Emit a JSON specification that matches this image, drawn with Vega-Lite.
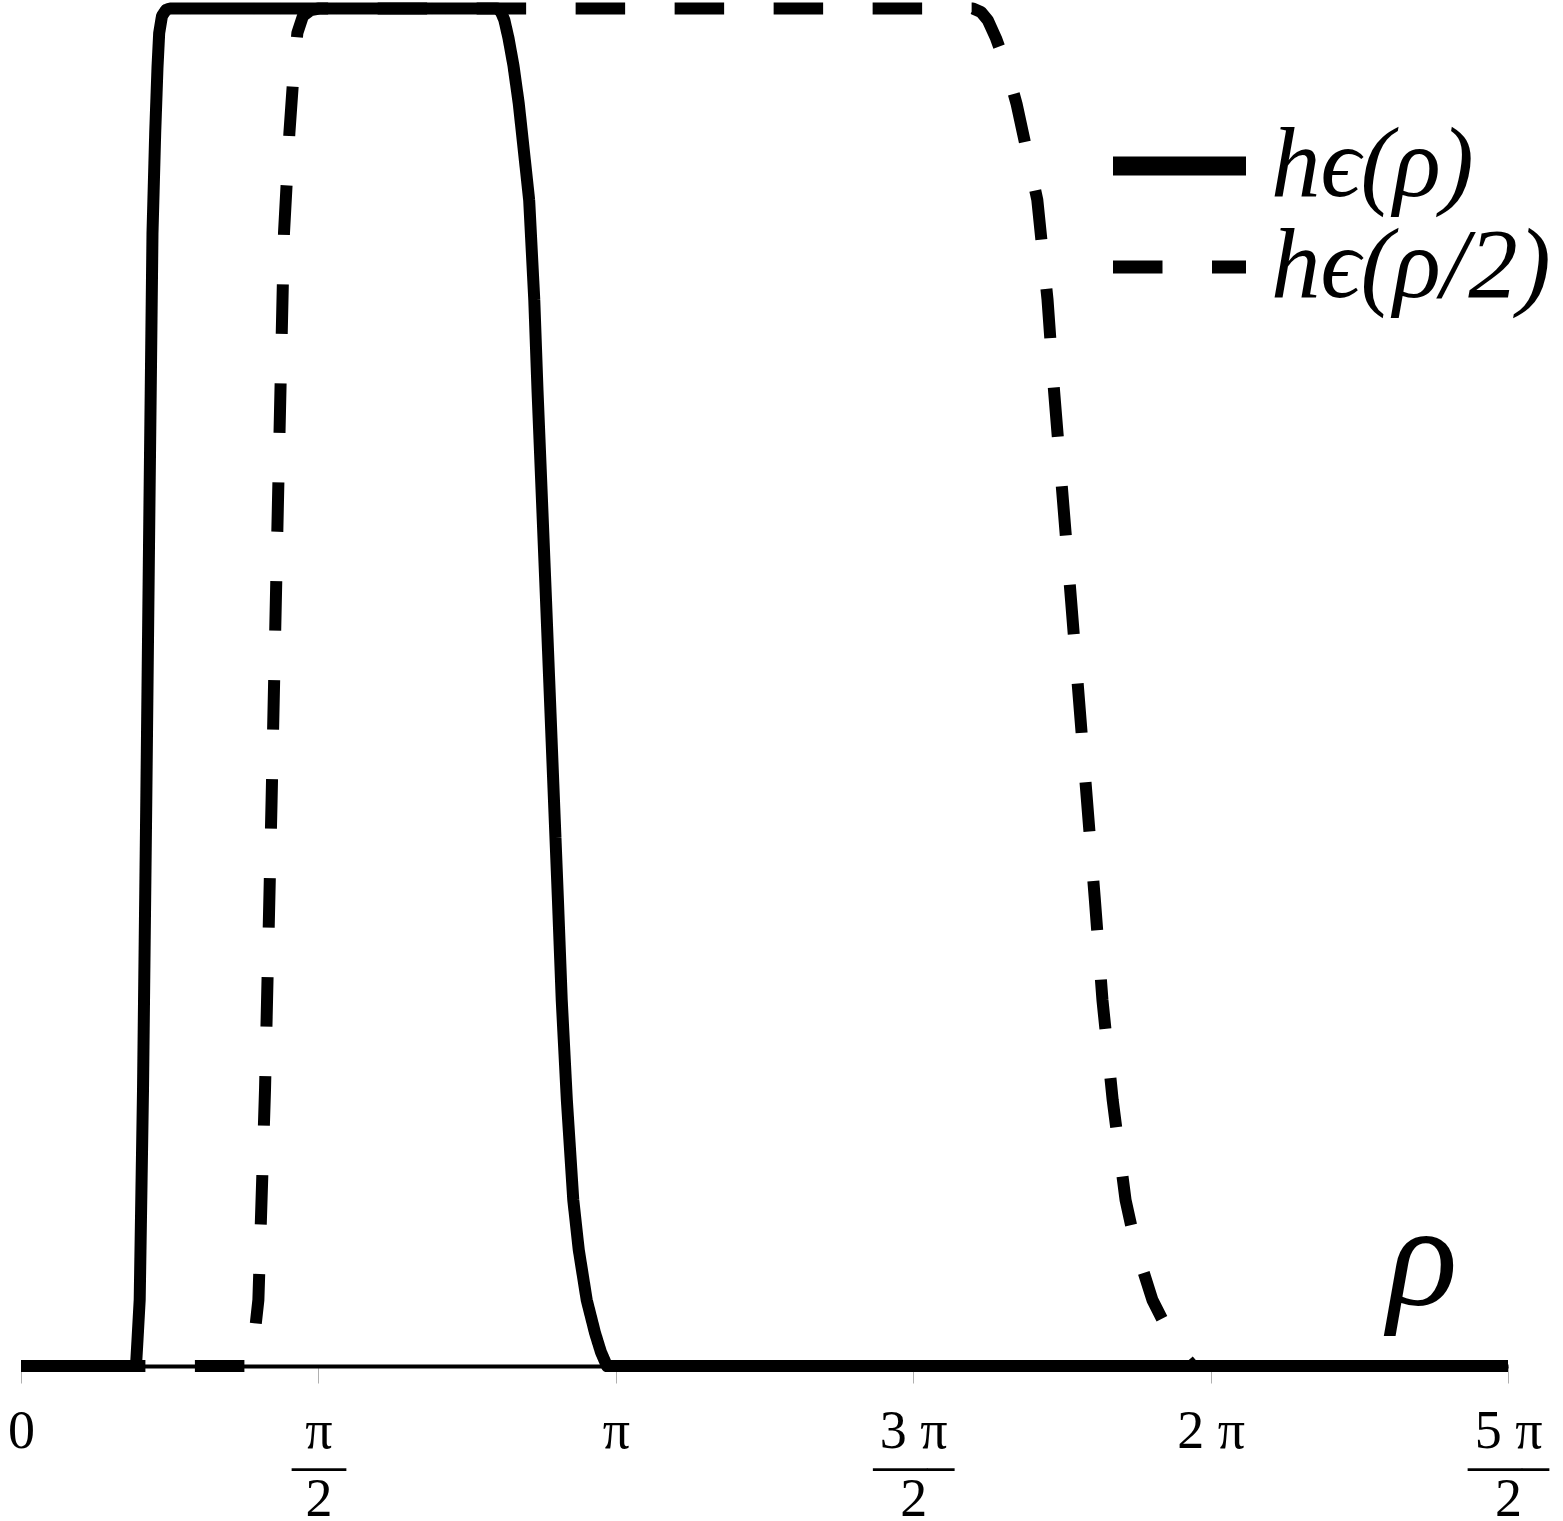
{
  "$schema": "https://vega.github.io/schema/vega-lite/v6.json",
  "width": 1487,
  "height": 1357.5,
  "autosize": {"type": "none"},
  "padding": {"left": 21, "top": 8.5, "right": 55, "bottom": 155},
  "background": "white",
  "config": {"view": {"stroke": null}},
  "data": {
    "values": [
      {"series": "hϵ(ρ)", "rho": 0, "h": 0},
      {"series": "hϵ(ρ)", "rho": 0.6074, "h": 0},
      {"series": "hϵ(ρ)", "rho": 0.6153, "h": 0.0192},
      {"series": "hϵ(ρ)", "rho": 0.6269, "h": 0.0486},
      {"series": "hϵ(ρ)", "rho": 0.6444, "h": 0.2033},
      {"series": "hϵ(ρ)", "rho": 0.6618, "h": 0.4169},
      {"series": "hϵ(ρ)", "rho": 0.6787, "h": 0.6379},
      {"series": "hϵ(ρ)", "rho": 0.6945, "h": 0.8346},
      {"series": "hϵ(ρ)", "rho": 0.7088, "h": 0.9083},
      {"series": "hϵ(ρ)", "rho": 0.721, "h": 0.9569},
      {"series": "hϵ(ρ)", "rho": 0.7299, "h": 0.982},
      {"series": "hϵ(ρ)", "rho": 0.7447, "h": 0.9945},
      {"series": "hϵ(ρ)", "rho": 0.7658, "h": 0.9989},
      {"series": "hϵ(ρ)", "rho": 0.787, "h": 1},
      {"series": "hϵ(ρ)", "rho": 2.514, "h": 1},
      {"series": "hϵ(ρ)", "rho": 2.535, "h": 0.9975},
      {"series": "hϵ(ρ)", "rho": 2.553, "h": 0.9915},
      {"series": "hϵ(ρ)", "rho": 2.575, "h": 0.978},
      {"series": "hϵ(ρ)", "rho": 2.601, "h": 0.958},
      {"series": "hϵ(ρ)", "rho": 2.629, "h": 0.93},
      {"series": "hϵ(ρ)", "rho": 2.66, "h": 0.89},
      {"series": "hϵ(ρ)", "rho": 2.684, "h": 0.8589},
      {"series": "hϵ(ρ)", "rho": 2.711, "h": 0.7853},
      {"series": "hϵ(ρ)", "rho": 2.728, "h": 0.719},
      {"series": "hϵ(ρ)", "rho": 2.773, "h": 0.5643},
      {"series": "hϵ(ρ)", "rho": 2.836, "h": 0.3433},
      {"series": "hϵ(ρ)", "rho": 2.856, "h": 0.2696},
      {"series": "hϵ(ρ)", "rho": 2.883, "h": 0.1959},
      {"series": "hϵ(ρ)", "rho": 2.917, "h": 0.1223},
      {"series": "hϵ(ρ)", "rho": 2.946, "h": 0.0855},
      {"series": "hϵ(ρ)", "rho": 2.988, "h": 0.0486},
      {"series": "hϵ(ρ)", "rho": 3.032, "h": 0.0243},
      {"series": "hϵ(ρ)", "rho": 3.063, "h": 0.0103},
      {"series": "hϵ(ρ)", "rho": 3.095, "h": 0},
      {"series": "hϵ(ρ)", "rho": 7.854, "h": 0},
      {"series": "hϵ(ρ/2)", "rho": 0, "h": 0},
      {"series": "hϵ(ρ/2)", "rho": 1.2148, "h": 0},
      {"series": "hϵ(ρ/2)", "rho": 1.2306, "h": 0.0192},
      {"series": "hϵ(ρ/2)", "rho": 1.2538, "h": 0.0486},
      {"series": "hϵ(ρ/2)", "rho": 1.2888, "h": 0.2033},
      {"series": "hϵ(ρ/2)", "rho": 1.3236, "h": 0.4169},
      {"series": "hϵ(ρ/2)", "rho": 1.3574, "h": 0.6379},
      {"series": "hϵ(ρ/2)", "rho": 1.389, "h": 0.8346},
      {"series": "hϵ(ρ/2)", "rho": 1.4176, "h": 0.9083},
      {"series": "hϵ(ρ/2)", "rho": 1.442, "h": 0.9569},
      {"series": "hϵ(ρ/2)", "rho": 1.4598, "h": 0.982},
      {"series": "hϵ(ρ/2)", "rho": 1.4894, "h": 0.9945},
      {"series": "hϵ(ρ/2)", "rho": 1.5316, "h": 0.9989},
      {"series": "hϵ(ρ/2)", "rho": 1.574, "h": 1},
      {"series": "hϵ(ρ/2)", "rho": 5.028, "h": 1},
      {"series": "hϵ(ρ/2)", "rho": 5.07, "h": 0.9975},
      {"series": "hϵ(ρ/2)", "rho": 5.106, "h": 0.9915},
      {"series": "hϵ(ρ/2)", "rho": 5.15, "h": 0.978},
      {"series": "hϵ(ρ/2)", "rho": 5.202, "h": 0.958},
      {"series": "hϵ(ρ/2)", "rho": 5.258, "h": 0.93},
      {"series": "hϵ(ρ/2)", "rho": 5.32, "h": 0.89},
      {"series": "hϵ(ρ/2)", "rho": 5.368, "h": 0.8589},
      {"series": "hϵ(ρ/2)", "rho": 5.422, "h": 0.7853},
      {"series": "hϵ(ρ/2)", "rho": 5.456, "h": 0.719},
      {"series": "hϵ(ρ/2)", "rho": 5.546, "h": 0.5643},
      {"series": "hϵ(ρ/2)", "rho": 5.672, "h": 0.3433},
      {"series": "hϵ(ρ/2)", "rho": 5.712, "h": 0.2696},
      {"series": "hϵ(ρ/2)", "rho": 5.766, "h": 0.1959},
      {"series": "hϵ(ρ/2)", "rho": 5.834, "h": 0.1223},
      {"series": "hϵ(ρ/2)", "rho": 5.892, "h": 0.0855},
      {"series": "hϵ(ρ/2)", "rho": 5.976, "h": 0.0486},
      {"series": "hϵ(ρ/2)", "rho": 6.064, "h": 0.0243},
      {"series": "hϵ(ρ/2)", "rho": 6.126, "h": 0.0103},
      {"series": "hϵ(ρ/2)", "rho": 6.19, "h": 0},
      {"series": "hϵ(ρ/2)", "rho": 7.854, "h": 0}
    ]
  },
  "mark": {"type": "line", "strokeWidth": 12, "color": "black", "strokeDashOffset": 24.1, "strokeJoin": "round"},
  "encoding": {
    "x": {
      "field": "rho",
      "type": "quantitative",
      "scale": {"domain": [0, 7.853981634], "nice": false, "zero": false},
      "axis": {
        "values": [0, 1.5707963268, 3.1415926536, 4.7123889804, 6.2831853072, 7.853981634],
        "labelExpr": "[ '0', ['π','—','2'], 'π', ['3 π','—–','2'], '2 π', ['5 π','—–','2'] ][round(datum.value*2/PI)]",
        "grid": false,
        "domainColor": "black",
        "domainWidth": 4,
        "tickColor": "#b0b0b0",
        "tickWidth": 1,
        "tickSize": 17,
        "labelFont": "Liberation Serif",
        "labelFontSize": 54,
        "labelColor": "black",
        "labelLineHeight": 34,
        "labelBaseline": "top",
        "labelPadding": 21,
        "labelFlush": false,
        "labelOverlap": false,
        "labelBound": false,
        "title": "ρ",
        "titleFont": "Liberation Serif",
        "titleFontStyle": "italic",
        "titleFontWeight": "normal",
        "titleFontSize": 146,
        "titleColor": "black",
        "titleX": 1366,
        "titleY": -62,
        "titleAlign": "left",
        "titleBaseline": "alphabetic",
        "titleAngle": 0
      }
    },
    "y": {
      "field": "h",
      "type": "quantitative",
      "scale": {"domain": [0, 1], "nice": false},
      "axis": null
    },
    "strokeDash": {
      "field": "series",
      "type": "nominal",
      "scale": {"domain": ["hϵ(ρ)", "hϵ(ρ/2)"], "range": [[1, 0], [49.5, 49.5]]},
      "legend": {
        "orient": "none",
        "legendX": 1109,
        "legendY": 108,
        "title": null,
        "padding": 0,
        "symbolType": "stroke",
        "symbolSize": 17689,
        "symbolStrokeColor": "black",
        "symbolStrokeWidth": 16,
        "labelFont": "Liberation Serif",
        "labelFontStyle": "italic",
        "labelFontSize": 99,
        "labelColor": "black",
        "labelOffset": 42,
        "labelLimit": 0,
        "rowPadding": 1,
        "encode": {
          "symbols": {
            "update": {
              "strokeWidth": {"signal": "datum.value === 'hϵ(ρ)' ? 19 : 13"},
              "stroke": {"value": "black"}
            }
          }
        }
      }
    }
  }
}
